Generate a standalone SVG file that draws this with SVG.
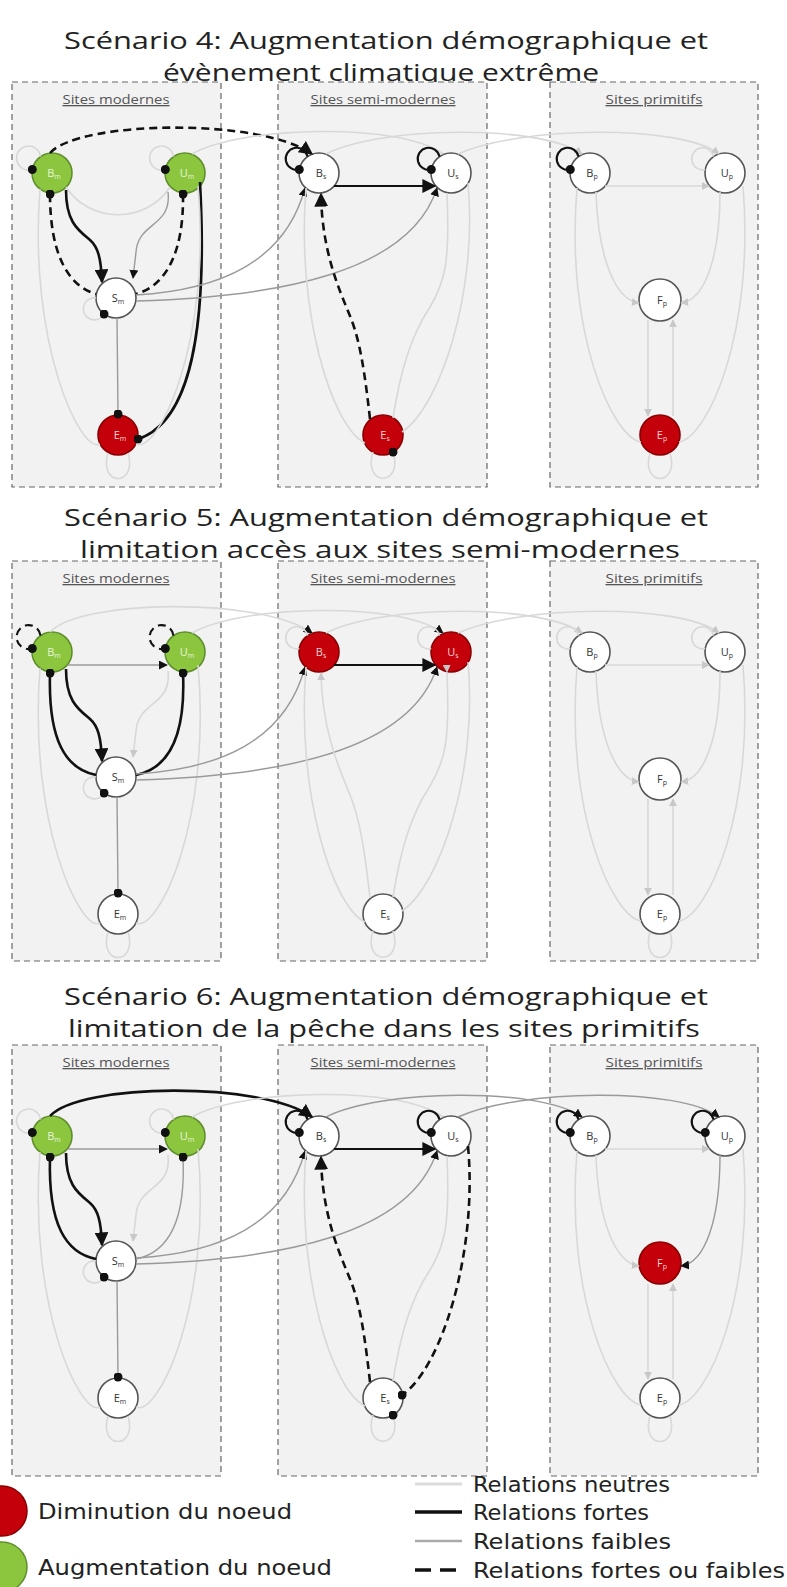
<svg xmlns="http://www.w3.org/2000/svg" width="787" height="1587" viewBox="0 0 787 1587">
<style>
.title{font-family:'Open Sans','DejaVu Sans',sans-serif;font-size:24px;fill:#222;text-anchor:middle}
.leg{font-family:'DejaVu Sans Condensed','DejaVu Sans',sans-serif;font-size:22px;fill:#222}
.box{fill:#f2f2f2;stroke:#666;stroke-width:1.2;stroke-dasharray:6 4}
.lbl{font-family:'Open Sans','DejaVu Sans',sans-serif;font-size:13px;fill:#555;text-anchor:middle;text-decoration:underline}
.nd{stroke:#555;stroke-width:1.6}
.w{fill:#fff}
.g{fill:#8cc63f;stroke:#5f8f2c}
.r{fill:#c4000a;stroke:#8a0000}
.nl{font-family:'Open Sans','DejaVu Sans',sans-serif;font-size:11px;fill:#333;text-anchor:middle}
.nl.lt{fill:#eaf5dc}
.nl.lr{fill:#f7d4d4}
.sub{font-size:7px}
.n{fill:none;stroke:#d8d8d8;stroke-width:1.6}
.wk{fill:none;stroke:#9a9a9a;stroke-width:1.4}
.st{fill:none;stroke:#111;stroke-width:2.6}
.ds{fill:none;stroke:#111;stroke-width:2.6;stroke-dasharray:8 5}
.lp{stroke-width:2.1}
</style>
<defs>
<marker id="aB" viewBox="0 0 10 10" refX="9" refY="5" markerWidth="14" markerHeight="14" markerUnits="userSpaceOnUse" orient="auto"><path d="M0,0 L10,5 L0,10 z" fill="#111"/></marker>
<marker id="aS" viewBox="0 0 10 10" refX="9" refY="5" markerWidth="9" markerHeight="9" markerUnits="userSpaceOnUse" orient="auto"><path d="M0,0 L10,5 L0,10 z" fill="#111"/></marker>
<marker id="aN" viewBox="0 0 10 10" refX="9" refY="5" markerWidth="8" markerHeight="8" markerUnits="userSpaceOnUse" orient="auto"><path d="M0,0 L10,5 L0,10 z" fill="#c8c8c8"/></marker>
<marker id="dot" viewBox="0 0 10 10" refX="5" refY="5" markerWidth="9" markerHeight="9" markerUnits="userSpaceOnUse"><circle cx="5" cy="5" r="5" fill="#111"/></marker>
</defs>
<rect x="0" y="0" width="787" height="1587" fill="#fff"/>

<g id="titles">
<text class="title" x="386" y="49" textLength="644" lengthAdjust="spacingAndGlyphs">Scénario 4: Augmentation démographique et</text>
<text class="title" x="381" y="81" textLength="436" lengthAdjust="spacingAndGlyphs">évènement climatique extrême</text>
<text class="title" x="386" y="526" textLength="644" lengthAdjust="spacingAndGlyphs">Scénario 5: Augmentation démographique et</text>
<text class="title" x="380" y="558" textLength="600" lengthAdjust="spacingAndGlyphs">limitation accès aux sites semi-modernes</text>
<text class="title" x="386" y="1005" textLength="644" lengthAdjust="spacingAndGlyphs">Scénario 6: Augmentation démographique et</text>
<text class="title" x="384" y="1037" textLength="632" lengthAdjust="spacingAndGlyphs">limitation de la pêche dans les sites primitifs</text>
</g>

<!-- ================= SCENARIO 4 ================= -->
<g id="scenario4" transform="translate(0,82)">
<g id="s4-boxes">
<rect class="box" x="12" y="0" width="209" height="405"/>
<rect class="box" x="278" y="0" width="209" height="405"/>
<rect class="box" x="550" y="0" width="208" height="405"/>
<text class="lbl" x="116" y="22" textLength="107" lengthAdjust="spacingAndGlyphs">Sites modernes</text>
<text class="lbl" x="383" y="22" textLength="145" lengthAdjust="spacingAndGlyphs">Sites semi-modernes</text>
<text class="lbl" x="654" y="22" textLength="97" lengthAdjust="spacingAndGlyphs">Sites primitifs</text>
</g>
<g id="s4-Bm"><circle class="nd g" cx="52" cy="91" r="20"/><text class="nl lt" x="54" y="95">B<tspan class="sub" dy="2">m</tspan></text></g>
<g id="s4-Um"><circle class="nd g" cx="185" cy="91" r="20"/><text class="nl lt" x="187" y="95">U<tspan class="sub" dy="2">m</tspan></text></g>
<g id="s4-Sm"><circle class="nd w" cx="116" cy="216" r="20"/><text class="nl" x="118" y="220">S<tspan class="sub" dy="2">m</tspan></text></g>
<g id="s4-Em"><circle class="nd r" cx="118" cy="353" r="20"/><text class="nl lr" x="120" y="357">E<tspan class="sub" dy="2">m</tspan></text></g>
<g id="s4-Bs"><circle class="nd w" cx="319" cy="91" r="20"/><text class="nl" x="321" y="95">B<tspan class="sub" dy="2">s</tspan></text></g>
<g id="s4-Us"><circle class="nd w" cx="451" cy="91" r="20"/><text class="nl" x="453" y="95">U<tspan class="sub" dy="2">s</tspan></text></g>
<g id="s4-Es"><circle class="nd r" cx="383" cy="353" r="20"/><text class="nl lr" x="385" y="357">E<tspan class="sub" dy="2">s</tspan></text></g>
<g id="s4-Bp"><circle class="nd w" cx="590" cy="91" r="20"/><text class="nl" x="592" y="95">B<tspan class="sub" dy="2">p</tspan></text></g>
<g id="s4-Up"><circle class="nd w" cx="725" cy="91" r="20"/><text class="nl" x="727" y="95">U<tspan class="sub" dy="2">p</tspan></text></g>
<g id="s4-Fp"><circle class="nd w" cx="660" cy="218" r="21"/><text class="nl" x="662" y="222">F<tspan class="sub" dy="2">p</tspan></text></g>
<g id="s4-Ep"><circle class="nd r" cx="660" cy="353" r="20"/><text class="nl lr" x="662" y="357">E<tspan class="sub" dy="2">p</tspan></text></g>
<g id="s4-connectors">
<path class="n" d="M40.5,74.6 A12 12 0 1 0 32.3,87.5" marker-end="url(#dot)"/>
<path class="n" d="M173.5,74.6 A12 12 0 1 0 165.3,87.5" marker-end="url(#dot)"/>
<path class="n" d="M66,105 C90,142 146,142 170,105"/>
<path class="wk" d="M168,110 C172,145 138,140 136,170 L133,196" marker-end="url(#aS)"/>
<path class="st" d="M66,108 C66,140 78,148 90,158 C98,165 101,176 102,200" marker-end="url(#aB)"/>
<path class="ds" d="M50,112 C50,172 68,204 96,212" marker-start="url(#dot)"/>
<path class="ds" d="M183,112 C184,172 165,204 136,212" marker-start="url(#dot)"/>
<path class="st" d="M200,100 C208,250 190,340 138,357" marker-end="url(#dot)"/>
<path class="n" d="M96,216 A11 11 0 1 0 104,232" marker-end="url(#dot)"/>
<path class="wk" d="M117,236 L118,332" marker-end="url(#dot)"/>
<path class="n" d="M40,107 C28,260 80,372 100,362"/>
<path class="n" d="M198,104 C212,260 158,372 136,362"/>
<path class="n" d="M108,371 C98,405 138,405 128,371"/>
<path class="wk" d="M136,213 C220,208 285,180 305,106" marker-end="url(#aS)"/>
<path class="wk" d="M136,219 C280,215 410,190 437,106" marker-end="url(#aS)"/>
<path class="ds" d="M50,71 C80,38 262,36 312,72" marker-end="url(#aB)"/>
<path class="n" d="M192,72 C240,44 400,40 443,72"/>
<path class="n" d="M326,72 C380,44 540,42 582,72" marker-end="url(#aN)"/>
<path class="n" d="M458,72 C520,44 680,42 719,72" marker-end="url(#aN)"/>
<path class="st lp" d="M307.5,74.6 A11 11 0 1 0 299.3,87.5" marker-end="url(#dot)"/>
<path class="st lp" d="M439.5,74.6 A11 11 0 1 0 431.3,87.5" marker-end="url(#dot)"/>
<path class="st lp" d="M334,104 L435,104" marker-end="url(#aB)"/>
<path class="ds" d="M370,337 C365,292 360,258 350,234 C338,205 322,168 321,112" marker-end="url(#aB)"/>
<path class="n" d="M306,106 C296,230 332,345 365,361"/>
<path class="n" d="M447,111 C450,180 445,200 430,225 C410,255 400,292 393,336"/>
<path class="n" d="M468,101 C478,210 440,325 402,350"/>
<path class="n" d="M373,370 C362,405 404,405 393,370" marker-end="url(#dot)"/>
<path class="st lp" d="M578.5,74.6 A11 11 0 1 0 570.3,87.5" marker-end="url(#dot)"/>
<path class="n" d="M713.5,74.6 A11 11 0 1 0 705.3,87.5"/>
<path class="n" d="M605,104 L709,104" marker-end="url(#aN)"/>
<path class="n" d="M596,110 C598,175 615,218 639,221" marker-end="url(#aN)"/>
<path class="n" d="M720,110 C720,175 705,218 681,221" marker-end="url(#aN)"/>
<path class="n" d="M648,238 L648,334" marker-end="url(#aN)"/>
<path class="n" d="M673,334 L673,238" marker-end="url(#aN)"/>
<path class="n" d="M577,106 C565,250 612,355 641,360"/>
<path class="n" d="M743,104 C755,250 708,355 679,360"/>
<path class="n" d="M650,371 C640,405 680,405 670,371"/>
</g>
</g>

<!-- ================= SCENARIO 5 ================= -->
<g id="scenario5" transform="translate(0,561)">
<g id="s5-boxes">
<rect class="box" x="12" y="0" width="209" height="400"/>
<rect class="box" x="278" y="0" width="209" height="400"/>
<rect class="box" x="550" y="0" width="208" height="400"/>
<text class="lbl" x="116" y="22" textLength="107" lengthAdjust="spacingAndGlyphs">Sites modernes</text>
<text class="lbl" x="383" y="22" textLength="145" lengthAdjust="spacingAndGlyphs">Sites semi-modernes</text>
<text class="lbl" x="654" y="22" textLength="97" lengthAdjust="spacingAndGlyphs">Sites primitifs</text>
</g>
<g id="s5-Bm"><circle class="nd g" cx="52" cy="91" r="20"/><text class="nl lt" x="54" y="95">B<tspan class="sub" dy="2">m</tspan></text></g>
<g id="s5-Um"><circle class="nd g" cx="185" cy="91" r="20"/><text class="nl lt" x="187" y="95">U<tspan class="sub" dy="2">m</tspan></text></g>
<g id="s5-Sm"><circle class="nd w" cx="116" cy="216" r="20"/><text class="nl" x="118" y="220">S<tspan class="sub" dy="2">m</tspan></text></g>
<g id="s5-Em"><circle class="nd w" cx="118" cy="353" r="20"/><text class="nl" x="120" y="357">E<tspan class="sub" dy="2">m</tspan></text></g>
<g id="s5-Bs"><circle class="nd r" cx="319" cy="91" r="20"/><text class="nl lr" x="321" y="95">B<tspan class="sub" dy="2">s</tspan></text></g>
<g id="s5-Us"><circle class="nd r" cx="451" cy="91" r="20"/><text class="nl lr" x="453" y="95">U<tspan class="sub" dy="2">s</tspan></text></g>
<g id="s5-Es"><circle class="nd w" cx="383" cy="353" r="20"/><text class="nl" x="385" y="357">E<tspan class="sub" dy="2">s</tspan></text></g>
<g id="s5-Bp"><circle class="nd w" cx="590" cy="91" r="20"/><text class="nl" x="592" y="95">B<tspan class="sub" dy="2">p</tspan></text></g>
<g id="s5-Up"><circle class="nd w" cx="725" cy="91" r="20"/><text class="nl" x="727" y="95">U<tspan class="sub" dy="2">p</tspan></text></g>
<g id="s5-Fp"><circle class="nd w" cx="660" cy="218" r="21"/><text class="nl" x="662" y="222">F<tspan class="sub" dy="2">p</tspan></text></g>
<g id="s5-Ep"><circle class="nd w" cx="660" cy="353" r="20"/><text class="nl" x="662" y="357">E<tspan class="sub" dy="2">p</tspan></text></g>
<g id="s5-connectors">
<path class="ds lp" d="M40.5,74.6 A12 12 0 1 0 32.3,87.5" stroke-dasharray="5 4" marker-end="url(#dot)"/>
<path class="ds lp" d="M173.5,74.6 A12 12 0 1 0 165.3,87.5" stroke-dasharray="5 4" marker-end="url(#dot)"/>
<path class="wk" d="M68,104 L167,104" marker-end="url(#aS)"/>
<path class="n" d="M168,110 C172,145 138,140 136,170 L133,196" marker-end="url(#aN)"/>
<path class="st" d="M66,108 C66,140 78,148 90,158 C98,165 101,176 102,200" marker-end="url(#aB)"/>
<path class="st" d="M50,112 C48,180 66,208 96,214" marker-start="url(#dot)"/>
<path class="st" d="M183,112 C186,180 166,208 136,214" marker-start="url(#dot)"/>
<path class="n" d="M96,216 A11 11 0 1 0 104,232" marker-end="url(#dot)"/>
<path class="wk" d="M117,236 L118,332" marker-end="url(#dot)"/>
<path class="n" d="M40,107 C28,260 80,372 100,362"/>
<path class="n" d="M198,104 C212,260 158,372 136,362"/>
<path class="n" d="M108,371 C98,405 138,405 128,371"/>
<path class="wk" d="M136,213 C220,208 285,180 305,106" marker-end="url(#aS)"/>
<path class="wk" d="M136,219 C280,215 410,190 437,106" marker-end="url(#aS)"/>
<path class="n" d="M50,71 C80,38 262,36 312,72" marker-end="url(#aS)"/>
<path class="n" d="M192,72 C240,44 400,40 443,72" marker-end="url(#aS)"/>
<path class="n" d="M326,72 C380,44 540,42 582,72" marker-end="url(#aN)"/>
<path class="n" d="M458,72 C520,44 680,42 719,72" marker-end="url(#aN)"/>
<path class="n" d="M307.5,74.6 A11 11 0 1 0 299.3,87.5"/>
<path class="n" d="M439.5,74.6 A11 11 0 1 0 431.3,87.5"/>
<path class="st lp" d="M334,104 L435,104" marker-end="url(#aB)"/>
<path class="n" d="M370,337 C365,292 360,258 350,234 C338,205 322,168 321,112" marker-end="url(#aN)"/>
<path class="n" d="M306,106 C296,230 332,345 365,361"/>
<path class="n" d="M447,111 C450,180 445,200 430,225 C410,255 400,292 393,336" marker-start="url(#aN)"/>
<path class="n" d="M468,101 C478,210 440,325 402,350"/>
<path class="n" d="M373,370 C362,405 404,405 393,370"/>
<path class="n" d="M578.5,74.6 A11 11 0 1 0 570.3,87.5"/>
<path class="n" d="M713.5,74.6 A11 11 0 1 0 705.3,87.5"/>
<path class="n" d="M605,104 L709,104" marker-end="url(#aN)"/>
<path class="n" d="M596,110 C598,175 615,218 639,221" marker-end="url(#aN)"/>
<path class="n" d="M720,110 C720,175 705,218 681,221" marker-end="url(#aN)"/>
<path class="n" d="M648,238 L648,334" marker-end="url(#aN)"/>
<path class="n" d="M673,334 L673,238" marker-end="url(#aN)"/>
<path class="n" d="M577,106 C565,250 612,355 641,360"/>
<path class="n" d="M743,104 C755,250 708,355 679,360"/>
<path class="n" d="M650,371 C640,405 680,405 670,371"/>
</g>
</g>

<!-- ================= SCENARIO 6 ================= -->
<g id="scenario6" transform="translate(0,1045)">
<g id="s6-boxes">
<rect class="box" x="12" y="0" width="209" height="431"/>
<rect class="box" x="278" y="0" width="209" height="431"/>
<rect class="box" x="550" y="0" width="208" height="431"/>
<text class="lbl" x="116" y="22" textLength="107" lengthAdjust="spacingAndGlyphs">Sites modernes</text>
<text class="lbl" x="383" y="22" textLength="145" lengthAdjust="spacingAndGlyphs">Sites semi-modernes</text>
<text class="lbl" x="654" y="22" textLength="97" lengthAdjust="spacingAndGlyphs">Sites primitifs</text>
</g>
<g id="s6-Bm"><circle class="nd g" cx="52" cy="91" r="20"/><text class="nl lt" x="54" y="95">B<tspan class="sub" dy="2">m</tspan></text></g>
<g id="s6-Um"><circle class="nd g" cx="185" cy="91" r="20"/><text class="nl lt" x="187" y="95">U<tspan class="sub" dy="2">m</tspan></text></g>
<g id="s6-Sm"><circle class="nd w" cx="116" cy="216" r="20"/><text class="nl" x="118" y="220">S<tspan class="sub" dy="2">m</tspan></text></g>
<g id="s6-Em"><circle class="nd w" cx="118" cy="353" r="20"/><text class="nl" x="120" y="357">E<tspan class="sub" dy="2">m</tspan></text></g>
<g id="s6-Bs"><circle class="nd w" cx="319" cy="91" r="20"/><text class="nl" x="321" y="95">B<tspan class="sub" dy="2">s</tspan></text></g>
<g id="s6-Us"><circle class="nd w" cx="451" cy="91" r="20"/><text class="nl" x="453" y="95">U<tspan class="sub" dy="2">s</tspan></text></g>
<g id="s6-Es"><circle class="nd w" cx="383" cy="353" r="20"/><text class="nl" x="385" y="357">E<tspan class="sub" dy="2">s</tspan></text></g>
<g id="s6-Bp"><circle class="nd w" cx="590" cy="91" r="20"/><text class="nl" x="592" y="95">B<tspan class="sub" dy="2">p</tspan></text></g>
<g id="s6-Up"><circle class="nd w" cx="725" cy="91" r="20"/><text class="nl" x="727" y="95">U<tspan class="sub" dy="2">p</tspan></text></g>
<g id="s6-Fp"><circle class="nd r" cx="660" cy="218" r="21"/><text class="nl lr" x="662" y="222">F<tspan class="sub" dy="2">p</tspan></text></g>
<g id="s6-Ep"><circle class="nd w" cx="660" cy="353" r="20"/><text class="nl" x="662" y="357">E<tspan class="sub" dy="2">p</tspan></text></g>
<g id="s6-connectors">
<path class="n" d="M40.5,74.6 A12 12 0 1 0 32.3,87.5" marker-end="url(#dot)"/>
<path class="n" d="M173.5,74.6 A12 12 0 1 0 165.3,87.5" marker-end="url(#dot)"/>
<path class="wk" d="M68,104 L167,104" marker-end="url(#aS)"/>
<path class="n" d="M168,110 C172,145 138,140 136,170 L133,196" marker-end="url(#aN)"/>
<path class="st" d="M66,108 C66,140 78,148 90,158 C98,165 101,176 102,200" marker-end="url(#aB)"/>
<path class="st" d="M50,112 C48,180 66,208 96,214" marker-start="url(#dot)"/>
<path class="wk" d="M183,112 C186,180 166,208 136,214" marker-start="url(#dot)"/>
<path class="n" d="M96,216 A11 11 0 1 0 104,232" marker-end="url(#dot)"/>
<path class="wk" d="M117,236 L118,332" marker-end="url(#dot)"/>
<path class="n" d="M40,107 C28,260 80,372 100,362"/>
<path class="n" d="M198,104 C212,260 158,372 136,362"/>
<path class="n" d="M108,371 C98,405 138,405 128,371"/>
<path class="wk" d="M136,213 C220,208 285,180 305,106" marker-end="url(#aS)"/>
<path class="wk" d="M136,219 C280,215 410,190 437,106" marker-end="url(#aS)"/>
<path class="st" d="M50,71 C80,38 262,36 312,72" marker-end="url(#aB)"/>
<path class="n" d="M192,72 C240,44 400,40 443,72"/>
<path class="wk" d="M326,72 C380,44 540,42 582,72" marker-end="url(#aS)"/>
<path class="wk" d="M458,72 C520,44 680,42 719,72" marker-end="url(#aS)"/>
<path class="st lp" d="M307.5,74.6 A11 11 0 1 0 299.3,87.5" marker-end="url(#dot)"/>
<path class="st lp" d="M439.5,74.6 A11 11 0 1 0 431.3,87.5" marker-end="url(#dot)"/>
<path class="st lp" d="M334,104 L435,104" marker-end="url(#aB)"/>
<path class="ds" d="M370,337 C365,292 360,258 350,234 C338,205 322,168 321,112" marker-end="url(#aB)"/>
<path class="n" d="M306,106 C296,230 332,345 365,361"/>
<path class="n" d="M447,111 C450,180 445,200 430,225 C410,255 400,292 393,336"/>
<path class="ds" d="M468,101 C478,210 440,325 402,350" marker-end="url(#dot)"/>
<path class="n" d="M373,370 C362,405 404,405 393,370" marker-end="url(#dot)"/>
<path class="st lp" d="M578.5,74.6 A11 11 0 1 0 570.3,87.5" marker-end="url(#dot)"/>
<path class="st lp" d="M713.5,74.6 A11 11 0 1 0 705.3,87.5" marker-end="url(#dot)"/>
<path class="n" d="M605,104 L709,104" marker-end="url(#aN)"/>
<path class="n" d="M596,110 C598,175 615,218 639,221" marker-end="url(#aN)"/>
<path class="wk" d="M720,110 C720,175 705,218 681,221" marker-end="url(#aS)"/>
<path class="n" d="M648,239 L648,334" marker-end="url(#aN)"/>
<path class="n" d="M673,334 L673,239" marker-end="url(#aN)"/>
<path class="n" d="M577,106 C565,250 612,355 641,360"/>
<path class="n" d="M743,104 C755,250 708,355 679,360"/>
<path class="n" d="M650,371 C640,405 680,405 670,371"/>
</g>
</g>

<!-- ================= LEGEND ================= -->
<g id="legend">
<g id="leg-dim"><circle cx="2" cy="1511" r="25" fill="#c4000a" stroke="#8a0000" stroke-width="1.5"/><text class="leg" x="38" y="1519" textLength="254" lengthAdjust="spacingAndGlyphs">Diminution du noeud</text></g>
<g id="leg-aug"><circle cx="2" cy="1567" r="25" fill="#8cc63f" stroke="#5f8f2c" stroke-width="1.5"/><text class="leg" x="38" y="1575" textLength="294" lengthAdjust="spacingAndGlyphs">Augmentation du noeud</text></g>
<g id="leg-neu"><line x1="415" y1="1484" x2="462" y2="1484" stroke="#dcdcdc" stroke-width="3"/><text class="leg" x="473" y="1492" textLength="197" lengthAdjust="spacingAndGlyphs">Relations neutres</text></g>
<g id="leg-fort"><line x1="415" y1="1512" x2="462" y2="1512" stroke="#111" stroke-width="3.5"/><text class="leg" x="473" y="1520" textLength="176" lengthAdjust="spacingAndGlyphs">Relations fortes</text></g>
<g id="leg-faib"><line x1="415" y1="1541" x2="462" y2="1541" stroke="#aaa" stroke-width="2.5"/><text class="leg" x="473" y="1549" textLength="198" lengthAdjust="spacingAndGlyphs">Relations faibles</text></g>
<g id="leg-ff"><line x1="415" y1="1570" x2="431" y2="1570" stroke="#111" stroke-width="3.5"/><line x1="440" y1="1570" x2="456" y2="1570" stroke="#111" stroke-width="3.5"/><text class="leg" x="473" y="1578" textLength="312" lengthAdjust="spacingAndGlyphs">Relations fortes ou faibles</text></g>
</g>
</svg>
